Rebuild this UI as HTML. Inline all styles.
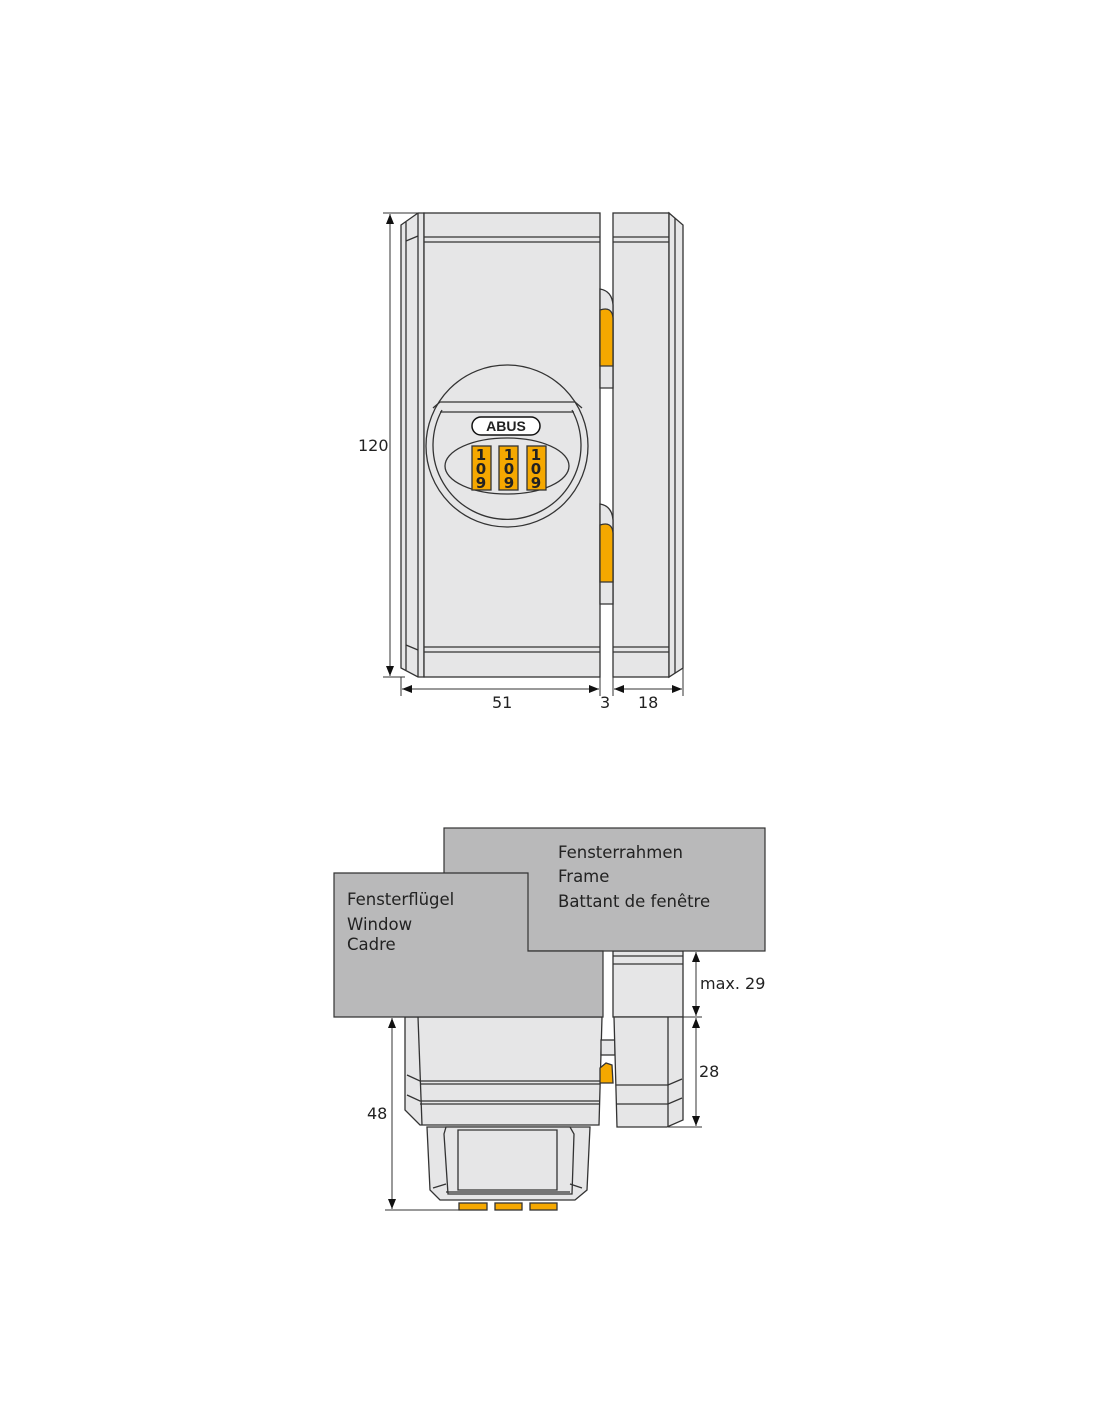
<!DOCTYPE html>
<html><head><style>body{margin:0;background:#fff}svg{display:block}text{font-family:"DejaVu Sans","Liberation Sans",sans-serif;fill:#222}</style></head>
<body>
<svg width="1100" height="1422" viewBox="0 0 1100 1422" xmlns="http://www.w3.org/2000/svg">
<defs>
<marker id="a" viewBox="0 0 10 10" refX="10" refY="5" markerWidth="10" markerHeight="10" orient="auto-start-reverse" markerUnits="userSpaceOnUse"><path d="M0,1 L10,5 L0,9z" fill="#111"/></marker>
</defs>
<g stroke="#333" stroke-width="1.3" fill="#e6e6e7">
<path d="M401,225 L418,213 L424,213 L424,677 L418,677 L401,668z"/>
<line x1="406" y1="222" x2="406" y2="670"/>
<line x1="418" y1="213" x2="418" y2="677"/>
<path d="M406,241 L418,236 M406,645 L418,650" fill="none"/>
<rect x="424" y="213" width="176" height="464"/>
<line x1="424" y1="237" x2="600" y2="237"/><line x1="424" y1="242" x2="600" y2="242"/>
<line x1="424" y1="647" x2="600" y2="647"/><line x1="424" y1="652" x2="600" y2="652"/>
<rect x="613" y="213" width="56" height="464"/>
<line x1="613" y1="237" x2="669" y2="237"/><line x1="613" y1="242" x2="669" y2="242"/>
<line x1="613" y1="647" x2="669" y2="647"/><line x1="613" y1="652" x2="669" y2="652"/>
<path d="M669,213 L683,225 L683,668 L669,677z"/>
<line x1="675" y1="218" x2="675" y2="673"/>
<path d="M600,289 Q612,291 613,305 L613,388 L600,388z"/>
<path d="M600,310 Q612,306 613,318 L613,366 L600,366z" fill="#f5a800"/>
<path d="M600,504 Q612,506 613,520 L613,604 L600,604z"/>
<path d="M600,525 Q612,521 613,533 L613,582 L600,582z" fill="#f5a800"/>
<circle cx="507" cy="446" r="81"/>
<path d="M442,410 A74,74 0 1 0 572,410" fill="none"/>
<path d="M433,408 L440,402 L575,402 L582,408" fill="none"/>
<ellipse cx="507" cy="466" rx="62" ry="28"/>
<path d="M440,412 L574,412" fill="none"/>
<rect x="472" y="417" width="68" height="18" rx="9" fill="#fff" stroke="#111" stroke-width="1.5"/>
<rect x="472" y="446" width="19" height="44" fill="#f5a800" stroke="#333"/>
<rect x="499" y="446" width="19" height="44" fill="#f5a800" stroke="#333"/>
<rect x="527" y="446" width="19" height="44" fill="#f5a800" stroke="#333"/>
</g>
<text x="506" y="431" font-size="14" font-weight="bold" text-anchor="middle" style="font-family:'Liberation Sans',sans-serif">ABUS</text>
<g font-size="15" font-weight="bold" text-anchor="middle" style="font-family:'Liberation Sans',sans-serif">
<text x="481" y="460">1</text><text x="481" y="474">0</text><text x="481" y="488">9</text>
<text x="509" y="460">1</text><text x="509" y="474">0</text><text x="509" y="488">9</text>
<text x="536" y="460">1</text><text x="536" y="474">0</text><text x="536" y="488">9</text>
</g>
<g stroke="#333" stroke-width="1" fill="none">
<line x1="383" y1="213" x2="418" y2="213"/><line x1="383" y1="677" x2="405" y2="677"/>
<line x1="390" y1="214" x2="390" y2="676" marker-start="url(#a)" marker-end="url(#a)"/>
<line x1="401" y1="677" x2="401" y2="696"/><line x1="600" y1="677" x2="600" y2="696"/>
<line x1="613" y1="677" x2="613" y2="696"/><line x1="683" y1="668" x2="683" y2="696"/>
<line x1="402" y1="689" x2="599" y2="689" marker-start="url(#a)" marker-end="url(#a)"/>
<line x1="614" y1="689" x2="682" y2="689" marker-start="url(#a)" marker-end="url(#a)"/>
</g>
<g font-size="16"><text x="358" y="451">120</text><text x="492" y="708">51</text><text x="600" y="708">3</text><text x="638" y="708">18</text></g>

<g stroke="#333" stroke-width="1.3" fill="#e6e6e7">
<path d="M405,1017 L602,1017 L599,1125 L420,1125 L405,1110z"/>
<line x1="418" y1="1017" x2="422" y2="1125"/>
<path d="M407,1075 L420,1081 L600,1081 M420,1084 L600,1084 M407,1095 L420,1101 L600,1101 M420,1104 L600,1104" fill="none"/>
<path d="M427,1127 L590,1127 L587,1190 L575,1200 L440,1200 L430,1190z"/>
<path d="M446,1127 L570,1127 L574,1134 L572,1194 L448,1194 L444,1134z"/>
<path d="M458,1130 L557,1130 L557,1190 L458,1190z"/>
<path d="M433,1188 L446,1184 M582,1188 L570,1184 M446,1192 L570,1192" fill="none"/>
<rect x="459" y="1203" width="28" height="7" fill="#f5a800"/>
<rect x="495" y="1203" width="27" height="7" fill="#f5a800"/>
<rect x="530" y="1203" width="27" height="7" fill="#f5a800"/>
<rect x="601" y="1040" width="14" height="15"/>
<path d="M600,1068 L606,1063 L612,1065 L613,1083 L600,1083z" fill="#f5a800"/>
<rect x="613" y="951" width="70" height="66"/>
<line x1="613" y1="956" x2="683" y2="956"/><line x1="613" y1="964" x2="683" y2="964"/>
<path d="M614,1017 L683,1017 L683,1120 L667,1127 L617,1127z"/>
<line x1="668" y1="1017" x2="668" y2="1127"/>
<path d="M616,1085 L668,1085 L682,1079 M616,1104 L668,1104 L682,1098" fill="none"/>
</g>
<rect x="444" y="828" width="321" height="123" fill="#b9b9ba" stroke="#333" stroke-width="1.2"/>
<path d="M334,873 L528,873 L528,951 L603,951 L603,1017 L334,1017z" fill="#b9b9ba" stroke="#333" stroke-width="1.2"/>
<g font-size="16.5">
<text x="558" y="858">Fensterrahmen</text><text x="558" y="882">Frame</text><text x="558" y="907">Battant de fenêtre</text>
<text x="347" y="905">Fensterflügel</text><text x="347" y="930">Window</text><text x="347" y="950">Cadre</text>
</g>
<g stroke="#333" stroke-width="1" fill="none">
<line x1="683" y1="951" x2="702" y2="951"/><line x1="683" y1="1017" x2="702" y2="1017"/><line x1="668" y1="1127" x2="702" y2="1127"/>
<line x1="696" y1="952" x2="696" y2="1016" marker-start="url(#a)" marker-end="url(#a)"/>
<line x1="696" y1="1018" x2="696" y2="1126" marker-start="url(#a)" marker-end="url(#a)"/>
<line x1="385" y1="1210" x2="460" y2="1210"/>
<line x1="392" y1="1018" x2="392" y2="1209" marker-start="url(#a)" marker-end="url(#a)"/>
</g>
<g font-size="16"><text x="700" y="989">max. 29</text><text x="699" y="1077">28</text><text x="367" y="1119">48</text></g>
</svg>
</body></html>
